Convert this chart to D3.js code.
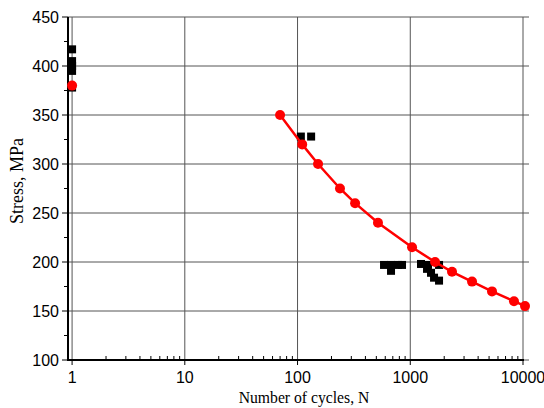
<!DOCTYPE html>
<html>
<head>
<meta charset="utf-8">
<script src="https://cdn.jsdelivr.net/npm/d3@7"></script>
<style>
  body { margin: 0; background: #fff; }
  svg { display: block; }
</style>
</head>
<body>
<svg width="544" height="408"></svg>
<script>

// fitted S-N curve (red)
var fitCycles = [70, 110, 152, 238, 324, 517, 1037, 1660, 2346, 3530, 5310, 8320, 10420]
var fitStress = [350, 320, 300, 275, 260, 240, 215, 200, 190, 180, 170, 160, 155]

// static strength point at N = 1
var staticCycles = [1]
var staticStress = [380]

// experimental results (black squares)
var expCycles = [1, 1, 1, 1, 1, 107, 132, 585, 675, 779, 845, 675, 1245, 1436, 1408, 1528, 1625, 1800, 1800]
var expStress = [417, 405, 400, 395, 378, 328, 328, 197, 197, 197, 197, 191, 198, 197, 193, 189, 184, 197, 181]

var xTicks = [1, 10, 100, 1000, 10000]
var yTicks = [100, 150, 200, 250, 300, 350, 400, 450]

var svg = d3.select("svg")

var plotLeft = 68, plotRight = 523, plotTop = 17, plotBottom = 360

var x = d3.scaleLog().domain([0.92, 10000]).range([plotLeft, plotRight])
var y = d3.scaleLinear().domain([100, 450]).range([plotBottom, plotTop])

// grid lines
svg.selectAll(".vgrid").data(xTicks).enter().append("line")
  .attr("x1", function(d){ return x(d); })
  .attr("x2", function(d){ return x(d); })
  .attr("y1", plotTop)
  .attr("y2", plotBottom)
  .style("stroke", "#555")
  .style("stroke-width", 1)

svg.selectAll(".hgrid").data(yTicks).enter().append("line")
  .attr("x1", plotLeft)
  .attr("x2", plotRight)
  .attr("y1", function(d){ return y(d); })
  .attr("y2", function(d){ return y(d); })
  .style("stroke", "#555")
  .style("stroke-width", 1)

// minor ticks on the log axis
var minor = []
xTicks.slice(0, -1).forEach(function(t){
  for (var k = 2; k < 10; k++) minor.push(t * k)
})

svg.selectAll(".xminor").data(minor).enter().append("line")
  .attr("x1", function(d){ return x(d); })
  .attr("x2", function(d){ return x(d); })
  .attr("y1", plotBottom)
  .attr("y2", plotBottom - 4)
  .style("stroke", "#000")
  .style("stroke-width", 1)

svg.selectAll(".xmajor").data(xTicks).enter().append("line")
  .attr("x1", function(d){ return x(d); })
  .attr("x2", function(d){ return x(d); })
  .attr("y1", plotBottom)
  .attr("y2", plotBottom + 5)
  .style("stroke", "#000")
  .style("stroke-width", 1)

// y ticks, majors and midpoints
var yMinor = yTicks.slice(0, -1).map(function(d){ return d + 25; })

svg.selectAll(".ymajor").data(yTicks).enter().append("line")
  .attr("x1", plotLeft - 6)
  .attr("x2", plotLeft)
  .attr("y1", function(d){ return y(d); })
  .attr("y2", function(d){ return y(d); })
  .style("stroke", "#000")
  .style("stroke-width", 1)

svg.selectAll(".yminor").data(yMinor).enter().append("line")
  .attr("x1", plotLeft - 4)
  .attr("x2", plotLeft)
  .attr("y1", function(d){ return y(d); })
  .attr("y2", function(d){ return y(d); })
  .style("stroke", "#000")
  .style("stroke-width", 1)

svg.selectAll(".rtick").data(yTicks).enter().append("line")
  .attr("x1", plotRight)
  .attr("x2", plotRight + 6)
  .attr("y1", function(d){ return y(d); })
  .attr("y2", function(d){ return y(d); })
  .style("stroke", "#555")
  .style("stroke-width", 1)

// axis lines
svg.append("line")
  .attr("x1", plotLeft).attr("x2", plotLeft)
  .attr("y1", plotTop).attr("y2", plotBottom + 1)
  .style("stroke", "#000").style("stroke-width", 2)

svg.append("line")
  .attr("x1", plotLeft - 1).attr("x2", plotRight + 1)
  .attr("y1", plotBottom).attr("y2", plotBottom)
  .style("stroke", "#000").style("stroke-width", 2)

// tick labels
svg.selectAll(".ylab").data(yTicks).enter().append("text")
  .attr("x", plotLeft - 9)
  .attr("y", function(d){ return y(d) + 6; })
  .attr("text-anchor", "end")
  .style("font-family", "Liberation Sans, Arial, sans-serif")
  .style("font-size", "16px")
  .text(function(d){ return d; })

svg.selectAll(".xlab").data(xTicks).enter().append("text")
  .attr("x", function(d){ return x(d); })
  .attr("y", plotBottom + 23)
  .attr("text-anchor", "middle")
  .style("font-family", "Liberation Sans, Arial, sans-serif")
  .style("font-size", "16px")
  .text(function(d){ return d; })

// axis titles
svg.append("text")
  .attr("x", 304)
  .attr("y", 403)
  .attr("text-anchor", "middle")
  .style("font-family", "Liberation Serif, Times New Roman, serif")
  .style("font-size", "15.7px")
  .text("Number of cycles, N")

svg.append("text")
  .attr("transform", "translate(23,181) rotate(-90)")
  .attr("text-anchor", "middle")
  .style("font-family", "Liberation Serif, Times New Roman, serif")
  .style("font-size", "18px")
  .text("Stress, MPa")

// experimental squares
var expData = expCycles.map(function(c, i){ return {n: c, s: expStress[i]}; })

svg.selectAll(".sq").data(expData).enter().append("rect")
  .attr("x", function(d){ return x(d.n) - 4; })
  .attr("y", function(d){ return y(d.s) - 4; })
  .attr("width", 8)
  .attr("height", 8)
  .style("fill", "#000")

// fitted curve
var fitData = fitCycles.map(function(c, i){ return {n: c, s: fitStress[i]}; })

var line = d3.line()
  .x(function(d){ return x(d.n); })
  .y(function(d){ return y(d.s); })

svg.append("path")
  .datum(fitData)
  .attr("d", line)
  .style("fill", "none")
  .style("stroke", "#ff0000")
  .style("stroke-width", 2.5)

var redData = fitData.concat(staticCycles.map(function(c, i){ return {n: c, s: staticStress[i]}; }))

svg.selectAll(".pt").data(redData).enter().append("circle")
  .attr("cx", function(d){ return x(d.n); })
  .attr("cy", function(d){ return y(d.s); })
  .attr("r", 5)
  .style("fill", "#ff0000")

</script>
</body>
</html>
